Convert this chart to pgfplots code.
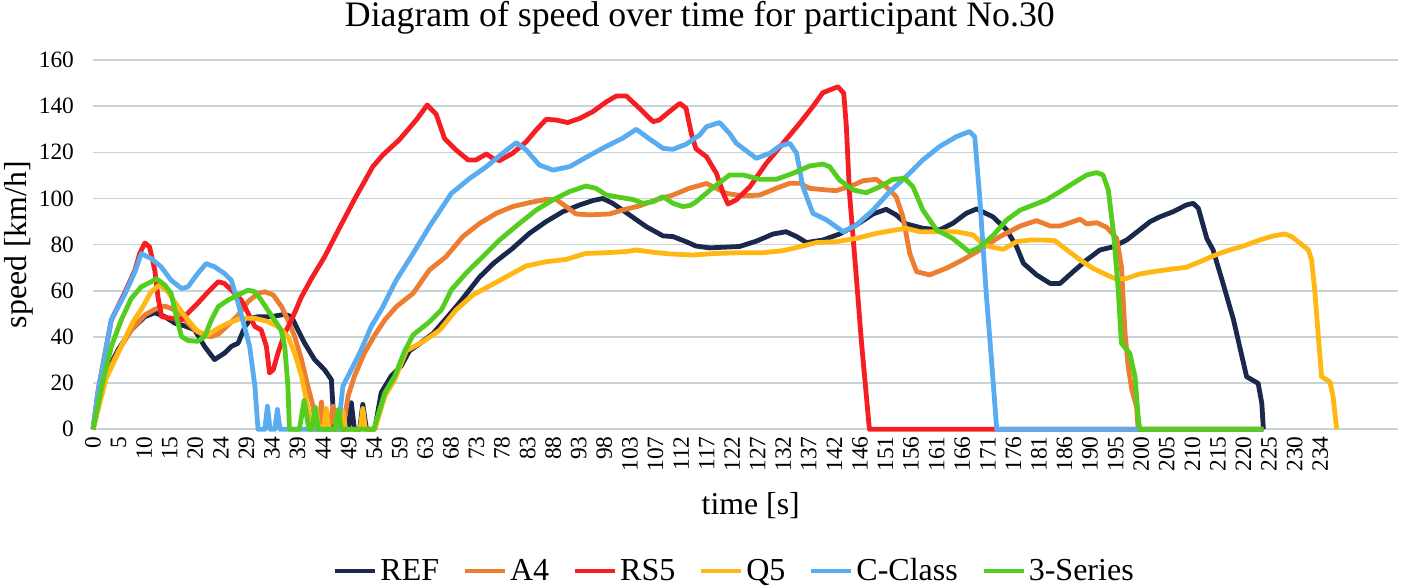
\documentclass[border=0pt]{standalone}
\usepackage{fontspec}
\setmainfont{Liberation Serif}
\usepackage{pgfplots}
\pgfplotsset{compat=1.18}

\definecolor{cref}{RGB}{25,40,75}
\definecolor{cafour}{RGB}{237,125,49}
\definecolor{crs}{RGB}{245,30,35}
\definecolor{cq}{RGB}{255,183,20}
\definecolor{cc}{RGB}{90,172,240}
\definecolor{cthree}{RGB}{85,205,30}
\definecolor{gridc}{RGB}{200,212,212}

\pgfplotsset{
  legend image code/.code={\draw[#1, line width=2pt] (0pt,0pt) -- (20pt,0pt);},
}

\begin{document}
\begin{tikzpicture}
\path[use as bounding box] (-46.5pt,-79.35pt) rectangle (659.5pt,214.65pt);
\begin{axis}[
    at={(0,0)}, anchor=south west,
    scale only axis,
    width=652.5pt, height=184.65pt,
    xmin=0, xmax=249.1, ymin=0, ymax=160,
    clip=false,
    axis line style={draw=none},
    major tick length=0pt,
    ymajorgrids,
    grid style={gridc, line width=0.8pt},
    /pgf/number format/assume math mode=true,
    ytick={0,20,...,160},
    yticklabels={0,20,40,60,80,100,120,140,160},
    yticklabel style={font=\fontsize{11.7}{13}\selectfont, xshift=-6pt},
    xtick={0,4.88,...,234.3},
    xticklabels={0,5,10,15,20,24,29,34,39,44,49,54,59,63,68,73,78,83,88,93,98,103,107,112,117,122,127,132,137,142,146,151,156,161,166,171,176,181,186,190,195,200,205,210,215,220,225,230,234},
    xticklabel style={font=\fontsize{11.7}{13}\selectfont, rotate=90, anchor=east},
    title={Diagram of speed over time for participant No.30},
    title style={at={(0.465,1.057)}, anchor=base, font=\fontsize{17.9}{20}\selectfont},
    xlabel={time [s]},
    xlabel style={at={(0.504,-0.232)}, anchor=base, font=\fontsize{15.9}{18}\selectfont},
    ylabel={speed [km/h]},
    ylabel style={at={(-0.0567,0.5)}, anchor=center, font=\fontsize{15.9}{18}\selectfont},
    legend columns=6,
    legend style={draw=none, fill=none, at={(0.492,-0.384)}, anchor=center,
      font=\fontsize{16}{18}\selectfont,
      nodes={inner xsep=1.5pt},
      /tikz/every even column/.append style={column sep=10.5pt}},
    every axis plot/.append style={line width=2.4pt, line join=round, mark=none},
]
% REF
\addplot[cref] coordinates {
(0,0) (2.2,23) (4.8,34.5) (7.3,43.1) (9.9,48.8) (11.8,50.5) (13.7,48.8) (15.6,46) (17.5,44.8) (19.4,43.1) (21.3,35.9) (23.2,30.2) (25.1,33) (26.4,35.9) (27.7,37.3) (29,44.5) (30.2,48.1) (31.5,48.8) (34,48.8) (36.6,49.8) (37.9,48.8) (39.1,43.1) (40.4,37.3) (42.3,30.2) (44.2,25.8) (45.5,21.5) (45.8,10) (46.1,0) (48.7,0) (49.3,11.5) (49.9,0) (50.9,0) (51.5,10.8) (52.2,0) (53.8,0) (55,15.8) (56.9,23) (58.8,27.3) (60.4,34) (62.3,37) (64.9,41.5) (67.4,48) (70,55) (73.8,66) (76.5,72) (80.1,78.4) (83.3,84.9) (86.5,90) (89.7,94.3) (92.9,97.2) (95.4,99.1) (97.3,100) (99.2,97.9) (102.4,92.9) (105.6,87.8) (108.8,83.8) (110.7,83.5) (113.2,81.3) (115.1,79.4) (117.7,78.6) (123.4,79.2) (126.6,81.5) (129.8,84.6) (132.3,85.6) (134.3,83.5) (136.2,80.9) (139.3,82) (142.5,84.6) (145.7,88.5) (148.9,93.3) (151.4,95.3) (153.3,92.9) (155.2,89) (158.4,87.1) (161.6,86.4) (164.1,89.2) (166.7,93.6) (168.7,95.5) (171.8,92) (174.4,86.4) (176.3,79.1) (177.6,71.9) (180.1,66.9) (182.7,63.2) (184.6,63.2) (187.1,68.3) (189.7,73.4) (192.2,77.7) (194.8,79.1) (197.3,82) (199.8,86.4) (201.8,90) (203.7,92.1) (206.2,94.3) (208.7,97.2) (210,97.9) (211,95.7) (212.6,82.7) (213.8,77.7) (215.7,63.2) (217.7,47.4) (220.2,22.8) (222.4,19.9) (223.1,11.3) (223.4,0)
};
\addlegendentry{REF}
% A4
\addplot[cafour] coordinates {
(0,0) (2.2,21.5) (4.8,33.7) (7.3,43.1) (9.9,49.5) (11.8,52) (13.7,53.4) (15.6,51.7) (17.5,47.4) (19.4,43.1) (21.3,40.5) (22.6,40.2) (23.9,41.2) (25.8,45.2) (27.7,49.5) (29.6,55.3) (31.5,58.9) (32.8,59.6) (34.4,58.2) (36,53.1) (37.2,47.4) (38.5,40.2) (39.8,30.2) (41,18.7) (42,10) (42.6,0) (43,0) (43.6,11.8) (44.2,0) (45.1,0) (45.8,10) (46.4,0) (47.7,0) (48.7,14.4) (49.9,23) (51.8,33) (53.8,40.9) (55.7,47.4) (57.9,53.1) (61.1,58.9) (64.2,69) (67.4,74.8) (70.6,83.5) (73.8,89.2) (77,93.6) (80.1,96.5) (83.3,98.2) (86.5,99.6) (88.4,99.6) (90.3,96.5) (92.2,93.3) (94.8,92.9) (98.6,93.3) (101.1,95) (104.3,96.8) (107.5,99.4) (110.7,101.5) (113.8,104.4) (117.1,106.5) (119,104.4) (120.9,102.2) (124.1,101.1) (127.3,101.5) (130.4,104.4) (133,106.6) (134.9,106.6) (136.8,104.4) (140,103.7) (141.9,103.4) (145.1,105.8) (147,107.7) (149.5,108.3) (151.4,105.1) (153.3,100.8) (154.6,92.1) (155.9,76.2) (157.2,68.3) (159.7,66.9) (162.9,69.8) (166.1,73.5) (169.3,77.7) (173.1,83.5) (177,88.1) (180.1,90.4) (182.7,88.1) (184.6,88.1) (187.1,90) (188.4,91) (189.7,89) (191.6,89.5) (193.5,87.5) (195.4,82.7) (196.3,70.5) (197,41.6) (197.6,27.1) (198.3,17) (199.2,9.8) (199.5,0) (223.4,0)
};
\addlegendentry{A4}
% RS5
\addplot[crs] coordinates {
(0,0) (1,17) (3.5,47.4) (6,58.9) (8,68.9) (8.9,76.1) (9.9,80.7) (10.8,79) (11.8,68.9) (12.4,57.4) (13.1,48.8) (14.9,48.1) (16.9,47.4) (18.1,50.3) (20,54.6) (22,59.6) (23.9,63.9) (25.1,63.2) (26.4,60.3) (28.3,56) (29.6,50.3) (30.9,44.5) (32.1,43.1) (33.1,35.9) (33.7,24.4) (34.4,25.8) (35.3,33) (36.6,41.6) (37.9,47.4) (39.8,57.4) (41.7,65.3) (44.2,74.7) (46.8,86.2) (50,100) (53.4,113.8) (55.3,118.8) (58.5,125.5) (61.7,134) (63.8,140.5) (65.5,136.5) (67.1,126) (69.3,121) (71.6,116.7) (73.1,116.7) (75.1,119.3) (76.3,117.4) (77.6,116.4) (80.1,119.6) (82.7,124.6) (84.6,129.7) (86.5,134.3) (88.4,134) (90.6,132.9) (92.9,134.7) (95.4,137.6) (98,141.9) (99.9,144.4) (101.8,144.4) (104.3,139.1) (106.9,133.3) (108.1,134) (110,137.6) (112,141.2) (113.2,139.1) (114.2,128.2) (115.1,121.5) (117.1,118.1) (119,110.9) (120.3,102.2) (121.2,97.6) (122.8,99.4) (125.4,105.1) (128.5,115.2) (131.7,123.9) (134.9,132.6) (137.4,139.8) (139.3,145.8) (140.6,147) (142.2,148.4) (143.3,145.6) (143.8,131.1) (144.4,102.2) (145.7,66.1) (146.7,37.3) (148.2,0) (223.4,0)
};
\addlegendentry{RS5}
% Q5
\addplot[cq] coordinates {
(0,0) (2.5,22) (5,34) (7.5,46) (9.5,53) (11.1,59.6) (12.7,62.5) (14.3,59.6) (16.2,53.1) (18.1,47.4) (20,42.4) (21.9,40.9) (23.9,43.8) (25.8,46) (28.3,48.1) (30.9,48.1) (33.4,46.7) (35.3,44.5) (37.2,40.2) (38.5,33) (39.8,23) (40.7,12.9) (41.4,4.3) (41.7,0) (42.1,0) (42.6,9) (43.1,0) (44,0) (44.5,9) (45,0) (47.2,0) (47.7,8) (48.2,0) (51,0) (51.5,9) (52,0) (53.8,0) (55.7,14.4) (57.6,21.5) (59.8,34) (63,38) (66.2,43) (69.3,51.7) (72.5,58.2) (75.7,62.1) (78.9,66.1) (82.7,70.8) (86.5,72.6) (90.3,73.6) (94.1,76.2) (97.9,76.5) (101.8,77) (103.7,77.7) (106.9,76.7) (110,76) (114.5,75.5) (119,76.2) (123.4,76.5) (127.9,76.5) (131.7,77.4) (134.9,79.1) (138.1,80.9) (141.9,81.3) (145.7,82.7) (149.5,84.9) (153.3,86.4) (155.2,87.1) (157.8,85.6) (161,85.6) (164.8,85.6) (168,84.2) (170,79.9) (171.9,78.8) (173.8,78) (176.3,81.3) (178.9,82) (181.4,82) (183.6,81.7) (185.9,77.7) (188.4,73.4) (190.9,69.7) (193.5,66.9) (195.4,65) (197.3,65.4) (199.8,67.3) (202.4,68.3) (205.6,69.3) (208.7,70.2) (211.3,72.6) (213.8,75.1) (216.4,77.3) (219.6,79.4) (222.7,82) (225.3,83.8) (227.5,84.6) (228.8,83.5) (230.4,80.6) (232,77.7) (232.6,73.4) (233.2,60.4) (233.9,40.1) (234.5,22.8) (236.1,20.6) (236.7,14.2) (237.4,0)
};
\addlegendentry{Q5}
% C-Class
\addplot[cc] coordinates {
(0,0) (1,17.2) (3.5,47.4) (6,58.2) (8,68.2) (9.2,76.1) (11.1,74) (13,70.4) (14.9,64.6) (16.9,61) (18.1,61.7) (20,67.5) (21.6,71.8) (23.2,70.4) (25.1,67.5) (26.4,64.6) (27.7,54.6) (28.9,44.5) (29.9,35.9) (30.9,18.7) (31.5,0) (32.8,0) (33.3,10) (33.8,0) (34.7,0) (35.2,8.6) (35.7,0) (46.8,0) (47.7,18.7) (49.3,25.8) (51.2,34.5) (53.1,44.5) (55.2,52.5) (57.9,64.7) (61.1,76.2) (64.2,87.8) (68.4,102.2) (71.9,108.7) (75.1,113.8) (78.2,119.6) (80.8,124.2) (82.7,121) (85.2,114.5) (87.8,112.3) (91,113.8) (94.1,117.8) (97.9,122.5) (101.1,126.1) (103.7,130) (105.6,126.8) (108.8,121.7) (110.7,121.3) (113.2,123.5) (115.8,127.5) (117.1,131.1) (119.6,132.9) (121.5,128.2) (122.8,123.9) (126.6,117.4) (129.2,119.6) (131.1,122.7) (133,123.9) (134.3,119.6) (135.5,105.1) (137.4,93.6) (140,90.7) (143.2,85.6) (145.7,88.5) (148.9,95) (152.1,103) (155.2,109.5) (158.4,116.7) (161.6,122.5) (164.8,126.8) (167.3,129) (168.3,126.8) (169.2,102.2) (170.5,58.9) (171.5,30) (172.5,0) (223.4,0)
};
\addlegendentry{C-Class}
% 3-Series
\addplot[cthree] coordinates {
(0,0) (2,22) (3.5,35.9) (5.4,47.4) (7.3,56.7) (9.2,61.7) (11.1,63.9) (12.1,65.3) (13.7,62.5) (14.9,58.9) (15.9,48.8) (16.9,40.2) (18.1,38.5) (20,38.1) (21.3,40.2) (22.6,47.4) (23.9,53.1) (25.8,56) (27.7,58.2) (29.6,60.3) (30.9,59.6) (32.1,56) (34,49.5) (35.9,43.1) (36.6,35.9) (37.2,18.7) (37.5,0) (39.4,0) (40.3,12.5) (41.2,0) (41.8,0) (42.4,9.5) (43,0) (46.2,0) (46.8,8.5) (47.4,0) (53.6,0) (55.7,15.8) (57.6,23) (59.5,34) (61.1,40.9) (64.2,46.5) (66.5,51.7) (68.4,60.4) (71.2,67.6) (74.4,74.8) (77.6,82) (81.4,89.2) (84.6,95) (87.8,99.4) (91,103) (94.1,105.4) (96,104.4) (98,101.5) (100.5,100.5) (103,99.6) (105,97.9) (106.9,98.6) (108.8,100.8) (110.7,97.9) (112.6,96.5) (114,97) (115.1,98.5) (117.7,103.5) (121.5,110.2) (124.1,110.2) (127.3,108.3) (130.4,108.3) (133.6,110.9) (136.8,114.1) (139.3,114.9) (140.6,113.8) (142.5,108) (145.1,103.7) (147.6,102.5) (150.2,105.1) (152.7,108.3) (154.9,108.7) (156.5,105.1) (158.4,95) (161,86.4) (164.1,82.7) (167.3,76.8) (169.3,79) (171.9,84.2) (174.4,90.7) (177,95) (179.5,97.2) (182,99.4) (184.6,103) (187.1,106.6) (189.7,110.2) (191.6,111.2) (192.8,110.2) (193.8,103.7) (194.8,84.9) (195.7,60.4) (196.3,37.3) (197.9,32.9) (198.9,22.8) (199.5,5.5) (199.8,0) (223.4,0)
};
\addlegendentry{3-Series}
\end{axis}
\end{tikzpicture}
\end{document}
